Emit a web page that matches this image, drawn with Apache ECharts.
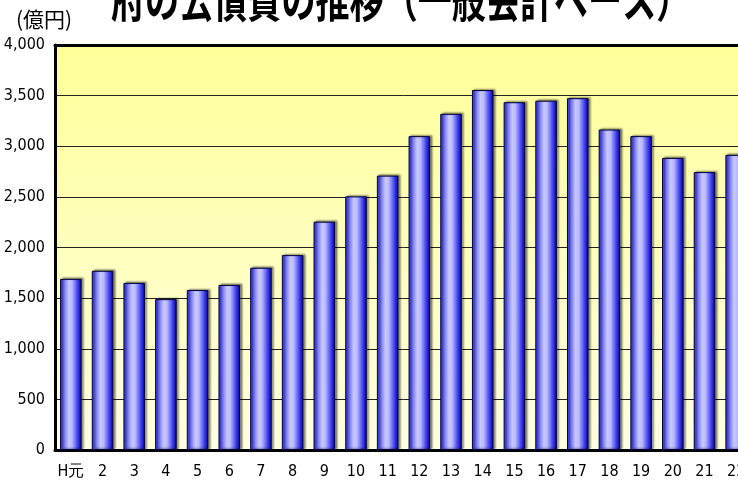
<!DOCTYPE html>
<html>
<head>
<meta charset="utf-8">
<script src="https://cdn.jsdelivr.net/npm/echarts@6/dist/echarts.min.js"></script>
<style>
  html, body { margin: 0; padding: 0; background: #fff; overflow: hidden; }
  /* a bit wider than the window: the plot runs off the right edge, as in the original */
  #chart { width: 752px; height: 489px; }
</style>
</head>
<body>
<div id="chart"></div>
<script>
// fiscal years (Heisei)
var years = ['H元', '2', '3', '4', '5', '6', '7', '8', '9', '10', '11',
             '12', '13', '14', '15', '16', '17', '18', '19', '20', '21', '22'];

// 公債費 (億円)
var debtCost = [1690, 1770, 1650, 1490, 1580, 1630, 1800, 1925, 2255, 2505, 2710,
                3100, 3320, 3555, 3435, 3450, 3475, 3165, 3100, 2885, 2745, 2915];

var yTicks = [0, 500, 1000, 1500, 2000, 2500, 3000, 3500, 4000];

var chart = echarts.init(document.getElementById('chart'));

var labelFont = '"Liberation Sans Narrow", "DejaVu Sans Condensed", sans-serif';
var jpFont = '"Noto Sans CJK JP", sans-serif';

var option = {
    animation: false,
    graphic: [{
        // title, cut off at the top like the original
        type: 'text',
        x: 111,
        y: -25,
        scaleX: 0.71,
        style: {
            text: '府の公債費の推移（一般会計ベース）',
            fontFamily: jpFont,
            fontSize: 48,
            fontWeight: 'bold',
            fill: '#000'
        }
    }, {
        type: 'text',
        x: 16,
        y: 9,
        style: {
            text: '(億円)',
            fontFamily: jpFont,
            fontSize: 21,
            fill: '#000'
        }
    }],
    grid: {
        left: 55,
        top: 45,
        bottom: 39,
        right: 0,
        show: true,
        borderWidth: 0,
        backgroundColor: new echarts.graphic.LinearGradient(0, 0, 0, 1, [
            { offset: 0, color: '#ffff99' },
            { offset: 1, color: '#ffffe2' }
        ])
    },
    xAxis: [{
        type: 'category',
        data: years,
        axisTick: { show: false },
        axisLine: { lineStyle: { color: '#000', width: 3 } },
        axisLabel: {
            margin: 14,
            fontFamily: labelFont,
            fontSize: 16,
            color: '#000',
            interval: 0
        }
    }, {
        type: 'category',
        position: 'top',
        data: years,
        axisTick: { show: false },
        axisLabel: { show: false },
        axisLine: { show: true, lineStyle: { color: '#000', width: 3 } }
    }],
    yAxis: {
        type: 'value',
        min: yTicks[0],
        max: yTicks[yTicks.length - 1],
        interval: 500,
        axisLine: { show: true, lineStyle: { color: '#000', width: 3 } },
        axisTick: { show: false },
        splitLine: { lineStyle: { color: '#222', width: 1 } },
        axisLabel: {
            margin: 10,
            fontFamily: labelFont,
            fontSize: 16,
            color: '#000',
            formatter: function(v) {
                return v.toLocaleString('en-US');
            }
        }
    },
    series: [{
        type: 'bar',
        data: debtCost,
        barCategoryGap: '32%',
        itemStyle: {
            color: new echarts.graphic.LinearGradient(0, 0, 1, 0, [
                { offset: 0, color: '#2a2ae6' },
                { offset: 0.4, color: '#c8c8ff' },
                { offset: 0.55, color: '#babaff' },
                { offset: 0.85, color: '#3030e8' },
                { offset: 1, color: '#00008c' }
            ]),
            borderColor: '#000040',
            borderWidth: 1,
            shadowColor: 'rgba(0, 0, 0, 0.45)',
            shadowBlur: 2,
            shadowOffsetX: 2,
            shadowOffsetY: -1
        }
    }]
};

chart.setOption(option);
</script>
</body>
</html>
